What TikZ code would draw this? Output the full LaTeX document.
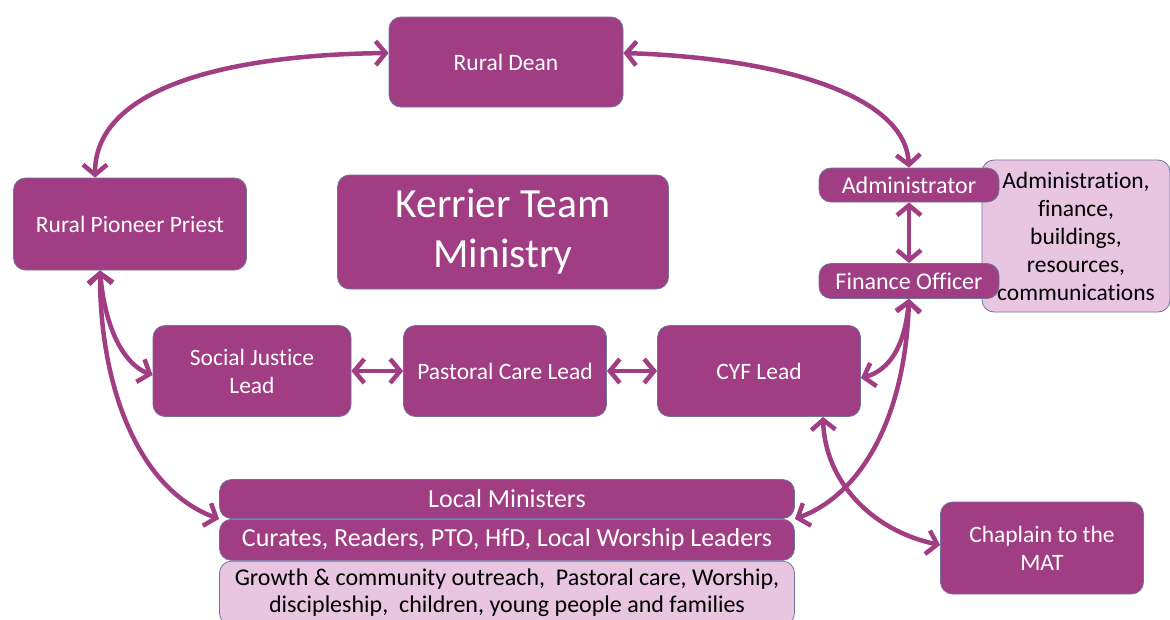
\documentclass[tikz,border=0pt]{standalone}
\usepackage{fontspec}
\setmainfont[Ligatures=NoCommon]{Carlito}
\usetikzlibrary{arrows.meta}
\usetikzlibrary{positioning}

\definecolor{kpurple}{HTML}{A03D83}
\definecolor{kpink}{HTML}{E8C5E0}
\definecolor{kedge}{HTML}{7272A2}

\tikzset{
  role/.style={draw=kedge, line width=0.8pt, fill=kpurple, text=white,
    rounded corners=12pt, align=center, inner sep=0pt,
    font=\fontsize{23.5}{28}\selectfont},
  remit/.style={draw=kedge, line width=0.8pt, fill=kpink, text=black,
    rounded corners=12pt, align=center, inner sep=0pt},
  link/.style={{Straight Barb[length=10pt,width=24pt]}-{Straight Barb[length=10pt,width=24pt]},
    line width=4.5pt, draw=kpurple},
}

\begin{document}
\begin{tikzpicture}[x=1pt, y=-1pt]
  \useasboundingbox (0,0) rectangle (1170,619);

  \node (iremit) [remit, minimum width=188pt, minimum height=152pt,
    font=\fontsize{23.5}{28}\selectfont] at (1076,236)
    {Administration,\\finance,\\buildings,\\resources,\\communications};

  \node (rdean) [role, minimum width=234pt, minimum height=90pt] at (506,62) {Rural Dean};
  \node (rpp) [role, minimum width=233pt, minimum height=92pt] at (130,224) {Rural Pioneer Priest};
  \node (ktm) [role, minimum width=331pt, minimum height=114pt,
    font=\fontsize{41.5}{50}\selectfont] at (503,232) {Kerrier Team\\Ministry};
  \node (admin) [role, minimum width=180pt, minimum height=34pt,
    font=\fontsize{24}{28}\selectfont] at (909,185) {Administrator};
  \node (fin) [role, minimum width=180pt, minimum height=35pt,
    font=\fontsize{24}{28}\selectfont] at (909,281) {Finance Officer};

  \node (sjl) [role, minimum width=198pt, minimum height=91pt] at (252,371) {Social Justice\\Lead};
  \node (pcl) [role, minimum width=203pt, minimum height=91pt] at (505,371) {Pastoral Care Lead};
  \node (cyf) [role, minimum width=203pt, minimum height=91pt] at (759,371) {CYF Lead};

  \node (lmin) [role, minimum width=575pt, minimum height=39pt,
    font=\fontsize{26}{30}\selectfont] at (507,499) {Local Ministers};
  \node (curates) [role, minimum width=575pt, minimum height=41pt, below=0pt of lmin,
    font=\fontsize{26}{30}\selectfont]
    {Curates, Readers, PTO, HfD, Local Worship Leaders};
  \node (ltasks) [remit, minimum width=575pt, minimum height=64pt, below=0pt of curates,
    font=\fontsize{24}{27}\selectfont]
    {Growth \& community outreach,\ \ Pastoral care, Worship,\\discipleship,\ \ children, young people and families};

  \node (mat) [role, minimum width=203pt, minimum height=92pt] at (1042,548) {Chaplain to the\\MAT};

  % links
  \draw [link] ([yshift=9pt]rdean.west) .. controls (220,55) and (95,90) .. ([xshift=-35pt]rpp.north);
  \draw [link] ([yshift=9pt]rdean.east) .. controls (780,58) and (905,95) .. (admin.north);
  \draw [link] (admin.south) -- (fin.north);
  \draw [link] ([xshift=-30pt]rpp.south) .. controls (105,330) and (125,365) .. ([yshift=-4pt]sjl.west);
  \draw [link] ([xshift=-30pt]rpp.south) .. controls (100,390) and (140,490) .. (lmin.south west);
  \draw [link] (sjl) -- (pcl);
  \draw [link] (pcl) -- (cyf);
  \draw [link] (fin.south) .. controls (905,345) and (890,370) .. ([yshift=-7pt]cyf.east);
  \draw [link] (fin.south) .. controls (905,420) and (860,495) .. (lmin.south east);
  \draw [link] ([xshift=64pt]cyf.south) .. controls (825,480) and (870,530) .. ([yshift=3pt]mat.west);
\end{tikzpicture}
\end{document}
